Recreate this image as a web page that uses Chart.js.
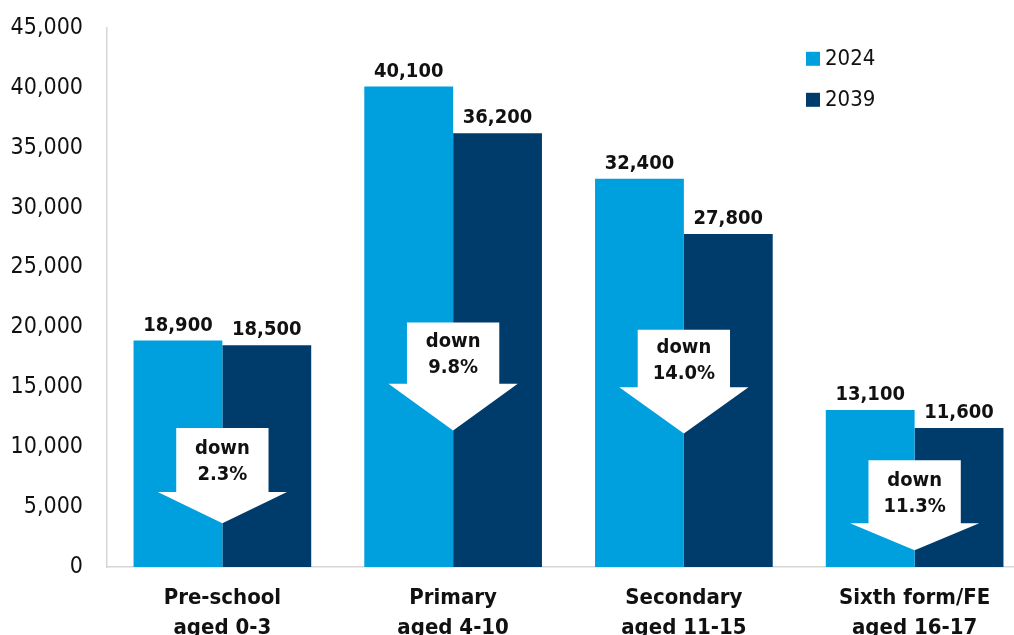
<!DOCTYPE html>
<html>
<head>
<meta charset="utf-8">
<script src="https://cdn.jsdelivr.net/npm/chart.js@4/dist/chart.umd.min.js"></script>
<style>
    html, body { margin: 0; padding: 0; background: #fff; overflow: hidden; }
    #wrap { position: absolute; left: 0; top: -10px; width: 1030px; height: 645px; }
</style>
</head>
<body>
<div id="wrap"><canvas id="pupilChart" width="1030" height="645"></canvas></div>
<script>
// Data
const categories = [
    ['Pre-school', 'aged 0-3'],
    ['Primary', 'aged 4-10'],
    ['Secondary', 'aged 11-15'],
    ['Sixth form/FE', 'aged 16-17']
];
const seriesNames = ['2024', '2039'];
const values2024 = [18900, 40100, 32400, 13100];
const values2039 = [18500, 36200, 27800, 11600];
const yTicks = [0, 5000, 10000, 15000, 20000, 25000, 30000, 35000, 40000, 45000];

// "down x%" arrows, in data units (top of box, start of head, tip)
const changeLabels = ['2.3%', '9.8%', '14.0%', '11.3%'];
const arrowTop = [11600, 20400, 19800, 8900];
const arrowNeck = [6250, 15300, 15000, 3650];
const arrowTip = [3650, 11400, 11150, 1400];

const colors = {
    light: '#00A0DF',
    dark: '#003C6B',
    axis: '#d6d6d6',
    text: '#111111'
};
const fontFamily = '"DejaVu Sans Condensed", "DejaVu Sans", Verdana, sans-serif';

// Value labels above each bar
const valueLabels = {
    id: 'valueLabels',
    afterDatasetsDraw(chart) {
        const ctx = chart.ctx;
        ctx.save();
        ctx.font = 'bold 20px ' + fontFamily;
        ctx.fillStyle = colors.text;
        ctx.textAlign = 'center';
        ctx.textBaseline = 'alphabetic';
        chart.data.datasets.forEach((ds, di) => {
            chart.getDatasetMeta(di).data.forEach((bar, i) => {
                ctx.fillText(ds.data[i].toLocaleString('en-GB'), bar.x, bar.y - 10);
            });
        });
        ctx.restore();
    }
};

// White down arrows with percentage change
const downArrows = {
    id: 'downArrows',
    afterDatasetsDraw(chart) {
        const ctx = chart.ctx;
        const x = chart.scales.x;
        const y = chart.scales.y;
        const catW = x.getPixelForValue(1) - x.getPixelForValue(0);
        const shaft = catW * 0.2;
        const head = catW * 0.28;
        ctx.save();
        categories.forEach((c, i) => {
            const cx = x.getPixelForValue(i);
            const top = y.getPixelForValue(arrowTop[i]);
            const neck = y.getPixelForValue(arrowNeck[i]);
            const tip = y.getPixelForValue(arrowTip[i]);
            ctx.beginPath();
            ctx.moveTo(cx - shaft, top);
            ctx.lineTo(cx + shaft, top);
            ctx.lineTo(cx + shaft, neck);
            ctx.lineTo(cx + head, neck);
            ctx.lineTo(cx, tip);
            ctx.lineTo(cx - head, neck);
            ctx.lineTo(cx - shaft, neck);
            ctx.closePath();
            ctx.fillStyle = '#ffffff';
            ctx.fill();

            const mid = (top + neck) / 2 + 2;
            ctx.fillStyle = colors.text;
            ctx.font = 'bold 20px ' + fontFamily;
            ctx.textAlign = 'center';
            ctx.textBaseline = 'middle';
            ctx.fillText('down', cx, mid - 13);
            ctx.fillText(changeLabels[i], cx, mid + 13);
        });
        ctx.restore();
    }
};

// Legend at the top right, placed from the top of the plot area
const sideLegend = {
    id: 'sideLegend',
    afterDraw(chart) {
        const ctx = chart.ctx;
        const top = chart.chartArea.top;
        ctx.save();
        ctx.font = '22px ' + fontFamily;
        ctx.textBaseline = 'middle';
        ctx.textAlign = 'left';
        chart.data.datasets.forEach((ds, i) => {
            const cy = top + 31 + i * 41;
            ctx.fillStyle = ds.backgroundColor;
            ctx.fillRect(806, cy - 7, 14, 14);
            ctx.fillStyle = colors.text;
            ctx.fillText(ds.label, 825, cy);
        });
        ctx.restore();
    }
};

new Chart(document.getElementById('pupilChart'), {
    type: 'bar',
    data: {
        labels: categories,
        datasets: [
            { label: seriesNames[0], data: values2024, backgroundColor: colors.light },
            { label: seriesNames[1], data: values2039, backgroundColor: colors.dark }
        ]
    },
    options: {
        responsive: false,
        animation: false,
        devicePixelRatio: 1,
        layout: { autoPadding: false, padding: { top: 17, left: 0, right: 0, bottom: 0 } },
        datasets: {
            bar: { categoryPercentage: 0.77, barPercentage: 1.0 }
        },
        plugins: {
            legend: { display: false },
            tooltip: { enabled: false }
        },
        scales: {
            x: {
                grid: { display: false, drawTicks: false, tickLength: 0 },
                border: { display: true, color: colors.axis, width: 1.5 },
                ticks: {
                    color: colors.text,
                    padding: 16,
                    maxRotation: 0,
                    autoSkip: false,
                    font: { family: fontFamily, size: 22, weight: 'bold', lineHeight: 1.36 }
                },
                afterFit(scale) { scale.height = 68; }
            },
            y: {
                min: 0,
                max: 45000,
                afterBuildTicks(scale) {
                    scale.ticks = yTicks.map(v => ({ value: v }));
                },
                grid: { display: false, drawTicks: false, tickLength: 0 },
                border: { display: true, color: colors.axis, width: 1.5 },
                ticks: {
                    color: colors.text,
                    padding: 24,
                    font: { family: fontFamily, size: 23 },
                    callback: function(value) {
                        return Number(value).toLocaleString('en-GB');
                    }
                },
                afterFit(scale) { scale.width = 107; }
            }
        }
    },
    plugins: [valueLabels, downArrows, sideLegend]
});
</script>
</body>
</html>
